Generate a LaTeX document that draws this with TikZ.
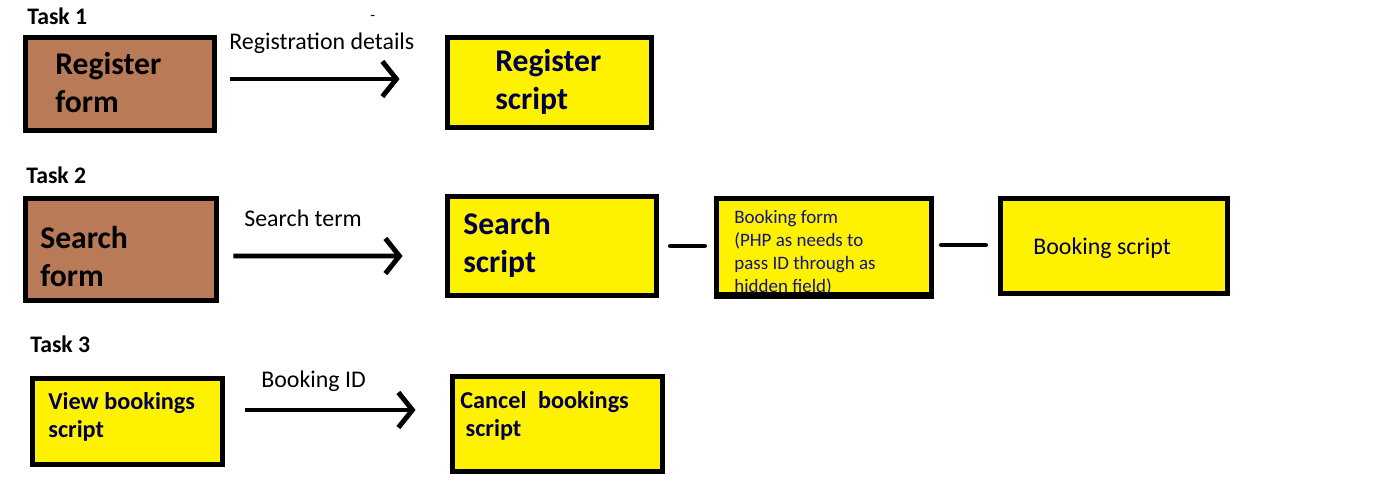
\documentclass[tikz,border=0pt]{standalone}
\usepackage{fontspec}
\setmainfont{Carlito}
\usetikzlibrary{arrows.meta,calc}
\definecolor{formbrown}{RGB}{185,122,87}
\definecolor{scriptyellow}{RGB}{255,242,0}
\definecolor{boxnavy}{RGB}{0,0,70}
\definecolor{smallnavy}{RGB}{20,20,130}
\tikzset{
  box/.style={draw=black, line width=2.8pt, inner sep=0pt},
  formbox/.style={box, fill=formbrown},
  scriptbox/.style={box, fill=scriptyellow},
  bigtext/.style={anchor=north west, align=left, inner sep=0pt, font=\fontsize{18}{21.5}\selectfont\bfseries},
  midtext/.style={anchor=north west, align=left, inner sep=0pt, text=boxnavy, font=\fontsize{13.8}{16}\selectfont\bfseries},
  smalltext/.style={anchor=north west, align=left, inner sep=0pt, text=smallnavy, font=\fontsize{10.8}{13}\selectfont},
  tasktext/.style={anchor=base west, inner sep=0pt, font=\fontsize{13.5}{15}\selectfont\bfseries},
  flowtext/.style={anchor=base west, inner sep=0pt, font=\fontsize{13.6}{15}\selectfont},
  flow/.style={line width=2.8pt, -{Straight Barb[length=8pt,width=20pt]}},
  link/.style={line width=2.8pt, line cap=round}
}
\begin{document}
\begin{tikzpicture}[x=0.02cm, y=-0.02cm]
  \useasboundingbox (0,0) rectangle (1385,500);

  % task 1
  \node[tasktext] (task1) at (27,25) {Task 1};
  \node[flowtext, font=\fontsize{9}{10}\selectfont] (stray) at (370,21) {-};
  \node[formbox, minimum width=3.78cm, minimum height=1.86cm] (regform) at (120,84) {};
  \node[scriptbox, minimum width=4.08cm, minimum height=1.8cm] (regscript) at (549.5,82.5) {};
  \node[bigtext] (regformtext) at (55,52) {Register\\form};
  \node[bigtext, text=boxnavy] (regscripttext) at (495,49) {Register\\script};
  \node[flowtext] (regdetails) at (229,50) {Registration details};
  \draw[flow] ($(regform.east)+(13.5,-5)$) -- ($(regscript.west)+(-45.5,-3.5)$);

  % task 2
  \node[tasktext] (task2) at (26,183) {Task 2};
  \node[formbox, minimum width=3.82cm, minimum height=2.04cm] (searchform) at (121,249.5) {};
  \node[scriptbox, minimum width=4.18cm, minimum height=1.98cm] (searchscript) at (552,246) {};
  \node[scriptbox, minimum width=4.3cm, minimum height=1.92cm] (bookform) at (824,246.5) {};
  \node[scriptbox, minimum width=4.54cm, minimum height=1.9cm] (bookscript) at (1114,246) {};
  \node[bigtext] (searchformtext) at (40,226) {Search\\form};
  \node[bigtext, text=boxnavy] (searchscripttext) at (463,212) {Search\\script};
  \node[smalltext] (bookformtext) at (734,210) {Booking form\\(PHP as needs to\\pass ID through as\\hidden field)};
  \draw[line width=2.8pt] (bookform.south west) -- (bookform.south east);
  \node[flowtext, text=boxnavy] (bookscripttext) at (1033,254) {Booking script};
  \node[flowtext] (searchterm) at (244,226) {Search term};
  \draw[flow] ($(searchform.east)+(14.5,6.5)$) -- ($(searchscript.west)+(-42.5,10)$);
  \draw[link] ($(searchscript.east)+(11.5,0)$) -- ($(bookform.west)+(-9.5,-0.5)$);
  \draw[link] ($(bookform.east)+(7.5,-1.5)$) -- ($(bookscript.west)+(-12.5,-1)$);

  % task 3
  \node[tasktext] (task3) at (30,352) {Task 3};
  \node[scriptbox, minimum width=3.8cm, minimum height=1.72cm] (viewscript) at (127.5,421.5) {};
  \node[scriptbox, minimum width=4.2cm, minimum height=1.9cm] (cancelscript) at (557.5,424) {};
  \node[midtext] (viewscripttext) at (48,392) {View bookings\\script};
  \node[midtext] (cancelscripttext) at (460,391) {Cancel\hspace{0.25em} bookings\\\hspace*{3pt}script};
  \node[flowtext] (bookingid) at (261,387) {Booking ID};
  \draw[flow] ($(viewscript.east)+(20.5,-11.5)$) -- ($(cancelscript.west)+(-34.5,-14)$);
\end{tikzpicture}
\end{document}
